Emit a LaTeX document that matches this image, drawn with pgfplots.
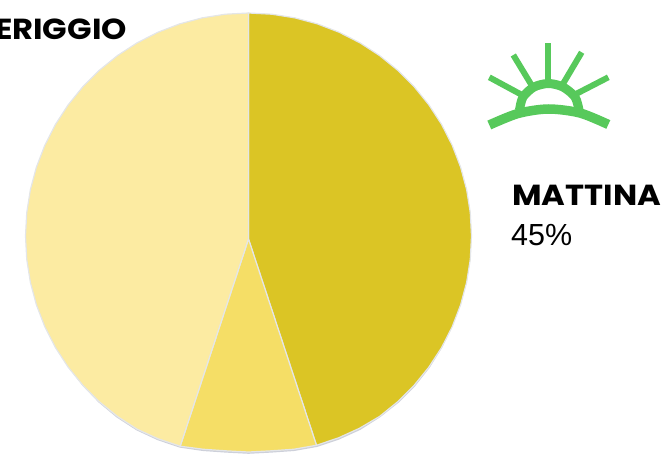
\documentclass[border=0pt]{standalone}
\usepackage{pgfplots}
\pgfplotsset{compat=1.18}
\usepackage{fontspec}
\setmainfont{Liberation Sans}
\newfontfamily\headfont{Poppins Bold}[FakeStretch=1.11]
\definecolor{morn}{HTML}{DBC525}
\definecolor{sera}{HTML}{F5DE66}
\definecolor{pome}{HTML}{FCEBA2}
\definecolor{rim}{HTML}{E4E6E8}
\definecolor{rimdark}{HTML}{CDD0DA}
\definecolor{icon}{HTML}{57C95B}
\begin{document}
\begin{tikzpicture}[x=1pt,y=1pt]
\path[use as bounding box,clip] (0,0) rectangle (669,453);
\begin{axis}[at={(0,0)},anchor=south west,scale only axis,width=669pt,height=453pt,
 hide axis,xmin=-248.5,xmax=420.5,ymin=-217,ymax=236]
\addplot[data cs=polar,draw=rimdark,line width=2pt] coordinates {(-24,222)(-30,222.5)(-36,223)(-42,223.3)(-48,223.3)(-54,223)(-60,222.8)(-66,221.8)(-72,220.8)(-78,218.8)(-84,216.8)(-90,216.8)(-96,216.8)(-102,218.8)(-108,221.5)(-114,222.5)(-120,223.3)(-126,223.3)(-132,223)(-138,222.5)(-144,222)};
\addplot[data cs=polar,fill=morn,draw=rim,line width=1.2pt,line join=round] coordinates {(270,3)(90,223)(84,223)(78,223)(72,223)(66,223)(60,223)(54,223)(48,223)(42,223)(36,223)(30,223)(24,223)(18,223)(12,223)(6,223)(0,223)(-6,223)(-12,223)(-18,223)(-24,223)(-30,223)(-36,223)(-42,223)(-48,223)(-54,223)(-60,222)(-66,221)(-72,220)} -- cycle;
\addplot[data cs=polar,fill=sera,draw=rim,line width=1.2pt,line join=round] coordinates {(270,3)(-72,220)(-78,218)(-84,216)(-90,216)(-96,216)(-102,218)(-108,221)} -- cycle;
\addplot[data cs=polar,fill=pome,draw=rim,line width=1.2pt,line join=round] coordinates {(270,3)(-108,221)(-114,222)(-120,223)(-126,223)(-132,223)(-138,223)(-144,223)(-150,223)(-156,223)(-162,223)(-168,223)(-174,223)(-180,223)(-186,223)(-192,223)(-198,223)(-204,223)(-210,223)(-216,223)(-222,223)(-228,223)(-234,223)(-240,223)(-246,223)(-252,223)(-258,223)(-264,223)(-270,223)} -- cycle;
\end{axis}
\begin{axis}[at={(0,0)},anchor=south west,scale only axis,width=669pt,height=453pt,
 hide axis,xmin=0,xmax=669,ymin=0,ymax=453,y dir=reverse,clip=false]
\addplot[icon,line width=6pt] coordinates {(548,43.3)(548,84)};
\addplot[icon,line width=6pt] coordinates {(581.7,52.3)(562.3,85)};
\addplot[icon,line width=6pt] coordinates {(513.3,55)(532.7,87)};
\addplot[icon,line width=6pt] coordinates {(608.3,77.3)(575,94.5)};
\addplot[icon,line width=6pt] coordinates {(489.3,77.3)(523,95.5)};
\addplot[icon,line width=9pt,smooth] coordinates {(519.5,110)(523,97)(534,87)(548.5,83.5)(563,87)(575,97)(579,110)};
\addplot[icon,line width=9.5pt,smooth] coordinates {(489.3,125)(518,113.5)(548.3,109)(580,113)(608.3,124.5)};
\node[anchor=base east,inner sep=0pt,font=\headfont\fontsize{29}{29}\selectfont] at (axis cs:127,40) {POMERIGGIO};
\node[anchor=base west,inner sep=0pt,font=\headfont\fontsize{29}{29}\selectfont] at (axis cs:512,205) {MATTINA};
\node[anchor=base west,inner sep=0pt,font=\fontsize{30.5}{30.5}\selectfont] at (axis cs:511,245) {45\%};
\end{axis}
\end{tikzpicture}
\end{document}
